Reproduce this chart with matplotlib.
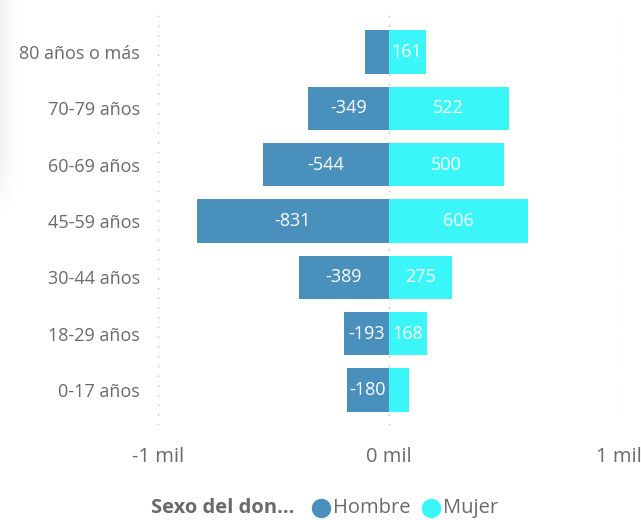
import matplotlib.pyplot as plt
from matplotlib.lines import Line2D
import numpy as np

# Datos (de abajo hacia arriba)
grupos = ["0-17 años", "18-29 años", "30-44 años", "45-59 años",
          "60-69 años", "70-79 años", "80 años o más"]
hombre = [-180, -193, -389, -831, -544, -349, -100]
mujer = [88, 168, 275, 606, 500, 522, 161]
xticks = [-1000, 0, 1000]
xtick_labels = ["-1 mil", "0 mil", "1 mil"]
series = ["Hombre", "Mujer"]

color_h = "#4a90bd"
color_m = "#3af6f8"
gris = "#6a6a6a"

plt.rcParams['font.family'] = ['Open Sans', 'DejaVu Sans']

W, H = 641, 520
fig = plt.figure(figsize=(W / 100, H / 100), dpi=100)

# sombra suave en el borde izquierdo
sombra = fig.add_axes([0, 1 - 215 / H, 22 / W, 215 / H])
gx = np.linspace(1, 0, 40) ** 1.5
gy = np.linspace(0, 1, 80)
fade = 1 - np.clip((gy - 0.72) / 0.28, 0, 1)
sombra.imshow(np.outer(fade, gx) * 0.12, cmap="Greys", vmin=0, vmax=1, aspect="auto")
sombra.axis("off")

ax = fig.add_axes([158 / W, 1 - 425 / H, (619 - 158) / W, (425 - 15) / H])

y = np.arange(len(grupos))
alto = 0.77
ax.barh(y, hombre, height=alto, color=color_h)
ax.barh(y, mujer, height=alto, color=color_m)

# etiquetas dentro de las barras (ocultas si la barra es muy corta)
for yi, h, m in zip(y, hombre, mujer):
    if abs(h) >= 130:
        ax.text(h / 2, yi, f"{h}", color="white", ha="center", va="center", fontsize=13)
    if abs(m) >= 130:
        ax.text(m / 2, yi, f"{m}", color="white", ha="center", va="center", fontsize=13)

ax.set_xlim(-1000, 1000)
ax.set_ylim(-0.62, len(grupos) - 1 + 0.66)
ax.set_yticks(y)
ax.set_yticklabels(grupos, fontsize=13, color=gris)
ax.set_xticks(xticks)
ax.set_xticklabels(xtick_labels, fontsize=14.5, color=gris)
ax.tick_params(axis="y", length=0, pad=13)
ax.tick_params(axis="x", length=0, pad=16)
for s in ax.spines.values():
    s.set_visible(False)
ax.set_axisbelow(True)
ax.grid(axis="x", linestyle=(0, (1, 6)), color="#b8b8b8", linewidth=1)

# leyenda hecha a mano
ly = 1 - 508 / H
fig.text(294 / W, ly, "Sexo del don...", fontsize=14.5, fontweight="bold",
         color=gris, ha="right", va="center")
for cx, color, nombre in zip([321, 431], [color_h, color_m], series):
    fig.add_artist(Line2D([cx / W], [ly], transform=fig.transFigure, marker="o",
                          markersize=13, color=color, linestyle=""))
    fig.text((cx + 12) / W, ly, nombre, fontsize=14.5, color=gris,
             ha="left", va="center")

fig.savefig("out.png", dpi=100)
